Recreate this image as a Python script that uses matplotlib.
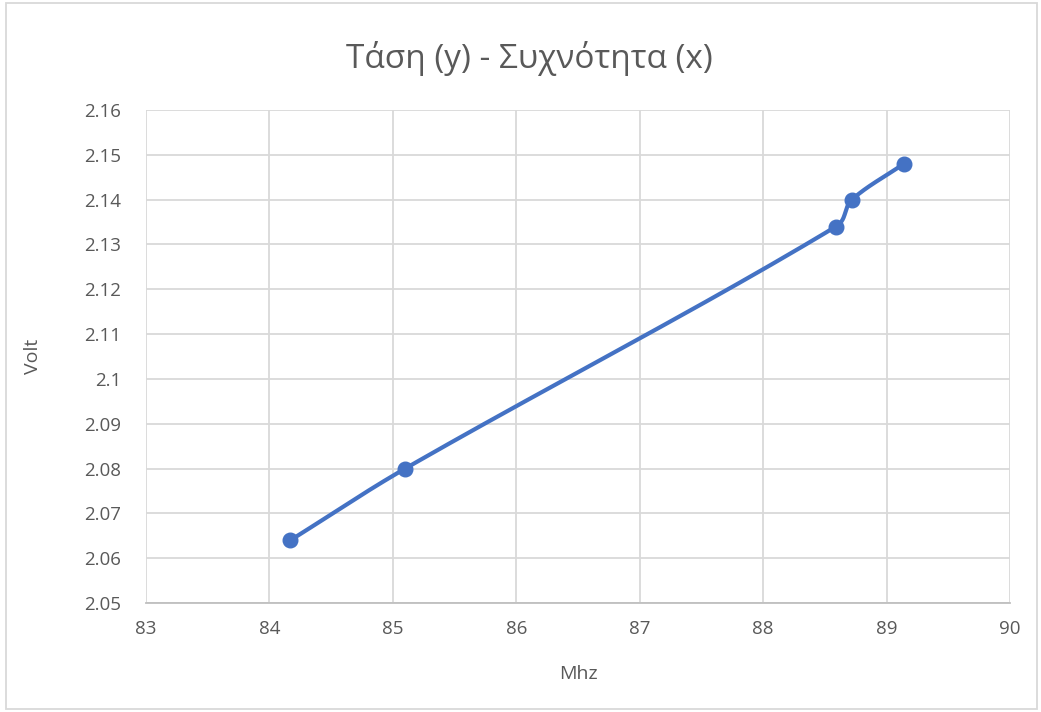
import matplotlib
matplotlib.use("Agg")
import matplotlib.pyplot as plt
import numpy as np

plt.rcParams['font.family'] = ['Open Sans', 'DejaVu Sans']

freq_mhz = [84.17, 85.10, 88.59, 88.72, 89.14]
volt = [2.064, 2.080, 2.134, 2.140, 2.148]

x_ticks = [83, 84, 85, 86, 87, 88, 89, 90]
y_ticks = [2.05, 2.06, 2.07, 2.08, 2.09, 2.10, 2.11, 2.12, 2.13, 2.14, 2.15, 2.16]
y_labels = ["2.05", "2.06", "2.07", "2.08", "2.09", "2.1", "2.11", "2.12",
            "2.13", "2.14", "2.15", "2.16"]


# smoothed line like Excel: cubic bezier through the points,
# tangent handles limited to a third of each segment so it never loops
def smooth_line(xs, ys, xr, yr, n=40):
    px = (np.array(xs) - xr[0]) / (xr[1] - xr[0])
    py = (np.array(ys) - yr[0]) / (yr[1] - yr[0])
    pts = np.column_stack([px, py])
    m = len(pts)
    tang = []
    for i in range(m):
        d = pts[min(i + 1, m - 1)] - pts[max(i - 1, 0)]
        tang.append(d / np.linalg.norm(d))
    out = []
    for i in range(m - 1):
        p1 = pts[i]
        p2 = pts[i + 1]
        L = np.linalg.norm(p2 - p1) / 3
        c1 = p1 + tang[i] * L
        c2 = p2 - tang[i + 1] * L
        t = np.linspace(0, 1, n)[:, None]
        seg = ((1 - t) ** 3) * p1 + 3 * ((1 - t) ** 2) * t * c1 + 3 * (1 - t) * t ** 2 * c2 + t ** 3 * p2
        out.append(seg)
    out = np.vstack(out)
    return out[:, 0] * (xr[1] - xr[0]) + xr[0], out[:, 1] * (yr[1] - yr[0]) + yr[0]


fig = plt.figure(figsize=(10.41, 7.12), dpi=100)
ax = fig.add_axes([0.1403, 0.1531, 0.8299, 0.6924])

xr = (83, 90)
yr = (2.05, 2.16)
sx, sy = smooth_line(freq_mhz, volt, xr, yr)
ax.plot(sx, sy, color="#4472C4", lw=3, solid_capstyle="round", zorder=3)
ax.plot(freq_mhz, volt, "o", color="#4472C4", ms=10.5, zorder=4)

ax.set_xlim(xr)
ax.set_ylim(yr)
ax.set_xticks(x_ticks)
ax.set_yticks(y_ticks)
ax.set_yticklabels(y_labels)
ax.grid(True, color="#D9D9D9", lw=1.3)
ax.set_axisbelow(True)
for s in ax.spines.values():
    s.set_visible(False)
ax.spines['bottom'].set_visible(True)
ax.spines['bottom'].set_color("#BFBFBF")
ax.spines['bottom'].set_linewidth(1.3)
ax.tick_params(length=0, labelsize=13.5, colors="#595959")
ax.tick_params(axis="y", pad=18)
ax.tick_params(axis="x", pad=12)

fig.text(0.509, 0.918, "Τάση (y) - Συχνότητα (x)", fontsize=24, color="#595959",
         ha="center", va="center")
ax.set_xlabel("Mhz", fontsize=14, color="#595959", labelpad=20)
ax.set_ylabel("Volt", fontsize=14, color="#595959", labelpad=30)

# chart border
fig.patches.append(plt.Rectangle((0.006, 0.004), 0.99, 0.992, transform=fig.transFigure,
                                 fill=False, edgecolor="#D9D9D9", lw=1.3))

fig.savefig("out.png", dpi=100)
